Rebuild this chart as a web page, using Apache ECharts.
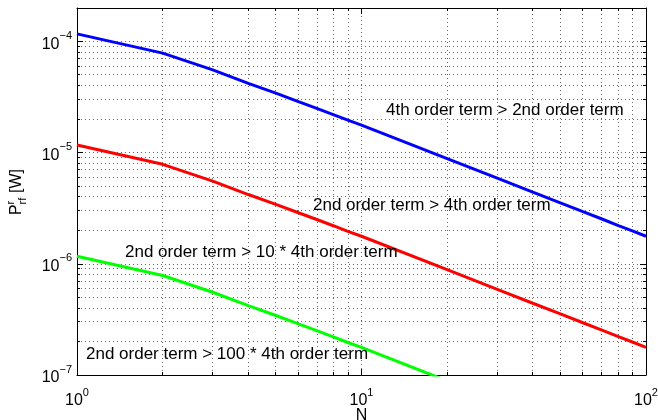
<!DOCTYPE html>
<html>
<head>
<meta charset="utf-8">
<script src="https://cdn.jsdelivr.net/npm/echarts@6/dist/echarts.min.js"></script>
<style>html,body{margin:0;padding:0;background:#fff}#c{width:658px;height:420px}</style>
</head>
<body>
<div id="c"></div>
<script>
// ---- data ----
const N = [1, 2, 3, 4, 5, 6, 7, 8, 9, 10, 20, 30, 40, 50, 60, 70, 80, 90, 100];
const blueVals = [1.17e-4, 7.85e-5, 5.55e-5, 4.2e-5, 3.43e-5, 2.88e-5, 2.49e-5, 2.19e-5, 1.95e-5, 1.77e-5, 8.85e-6, 5.9e-6, 4.42e-6, 3.54e-6, 2.95e-6, 2.53e-6, 2.21e-6, 1.97e-6, 1.77e-6];
const redVals = [1.17e-5, 7.85e-6, 5.55e-6, 4.2e-6, 3.43e-6, 2.88e-6, 2.49e-6, 2.19e-6, 1.95e-6, 1.77e-6, 8.85e-7, 5.9e-7, 4.42e-7, 3.54e-7, 2.95e-7, 2.53e-7, 2.21e-7, 1.97e-7, 1.77e-7];
const greenVals = [1.17e-6, 7.85e-7, 5.55e-7, 4.2e-7, 3.43e-7, 2.88e-7, 2.49e-7, 2.19e-7, 1.95e-7, 1.77e-7, 8.85e-8, 5.9e-8, 4.42e-8, 3.54e-8, 2.95e-8, 2.53e-8, 2.21e-8, 1.97e-8, 1.77e-8];
const xTickExps = [0, 1, 2];
const yTickExps = [-7, -6, -5, -4];
const xMinorTicks = [2, 3, 4, 5, 6, 7, 8, 9, 20, 30, 40, 50, 60, 70, 80, 90];
const yMinorTicks = [2e-7, 3e-7, 4e-7, 5e-7, 6e-7, 7e-7, 8e-7, 9e-7,
                     2e-6, 3e-6, 4e-6, 5e-6, 6e-6, 7e-6, 8e-6, 9e-6,
                     2e-5, 3e-5, 4e-5, 5e-5, 6e-5, 7e-5, 8e-5, 9e-5];
const XMIN = 1, XMAX = 100, YMIN = 1e-7, YMAX = 2e-4;
const annotations = [
  {text: '4th order term > 2nd order term', x: 386, y: 110},
  {text: '2nd order term > 4th order term', x: 313, y: 205},
  {text: '2nd order term > 10 * 4th order term', x: 125, y: 252},
  {text: '2nd order term > 100 * 4th order term', x: 86, y: 354}
];
// ---- chart ----
const FONT = "'Liberation Sans', Arial, Helvetica, sans-serif";
function expLabel(exps) {
  return function (v) {
    const e = Math.log10(v);
    const r = Math.round(e);
    if (Math.abs(e - r) > 1e-6 || exps.indexOf(r) < 0) return '';
    return '{b|10}{s|' + (r < 0 ? '\u2212' + (-r) : r) + '}';
  };
}
const rich = {
  b: {fontSize: 16, fontFamily: FONT, color: '#000', padding: [6, 0, 0, 0]},
  s: {fontSize: 11, fontFamily: FONT, color: '#000', verticalAlign: 'top'}
};
const GRID_COLOR = '#666';
const tickStyle = {show: true, inside: true, length: 6, lineStyle: {color: '#000', width: 1}};
const splitStyle = {show: true, lineStyle: {color: GRID_COLOR, width: 1, type: [1, 3]}};
const axisLine = {show: true, onZero: false, lineStyle: {color: '#000', width: 1}};
const px = v => Math.round(v - 0.5) + 0.5;

const chart = echarts.init(document.getElementById('c'), null, {renderer: 'canvas'});
function minorX(params, api) {
  const v = api.value(0);
  const p0 = api.coord([v, YMIN]);
  const p1 = api.coord([v, YMAX]);
  const x = px(p0[0]);
  return {type: 'group', children: [
    {type: 'line', shape: {x1: x, y1: p0[1], x2: x, y2: p1[1]}, style: {stroke: GRID_COLOR, lineWidth: 1, lineDash: [1, 3]}},
    {type: 'line', shape: {x1: x, y1: p0[1], x2: x, y2: p0[1] - 3}, style: {stroke: '#000', lineWidth: 1}},
    {type: 'line', shape: {x1: x, y1: p1[1], x2: x, y2: p1[1] + 3}, style: {stroke: '#000', lineWidth: 1}}
  ]};
}
function minorY(params, api) {
  const v = api.value(1);
  const p0 = api.coord([XMIN, v]);
  const p1 = api.coord([XMAX, v]);
  const y = px(p0[1]);
  return {type: 'group', children: [
    {type: 'line', shape: {x1: p0[0], y1: y, x2: p1[0], y2: y}, style: {stroke: GRID_COLOR, lineWidth: 1, lineDash: [1, 3]}},
    {type: 'line', shape: {x1: p0[0], y1: y, x2: p0[0] + 3, y2: y}, style: {stroke: '#000', lineWidth: 1}},
    {type: 'line', shape: {x1: p1[0], y1: y, x2: p1[0] - 3, y2: y}, style: {stroke: '#000', lineWidth: 1}}
  ]};
}
const lineSeries = (vals, color) => ({
  type: 'line', xAxisIndex: 0, yAxisIndex: 0, symbol: 'none', clip: true, z: 5,
  lineStyle: {color: color, width: 3}, itemStyle: {color: color},
  data: N.map((n, i) => [n, vals[i]])
});

chart.setOption({
  animation: false,
  backgroundColor: '#fff',
  grid: {left: 77, right: 12, top: 8, bottom: 45, containLabel: false, outerBoundsMode: 'none'},
  xAxis: [
    {type: 'log', logBase: 10, min: XMIN, max: XMAX, position: 'bottom',
     axisLine: axisLine, axisTick: tickStyle, splitLine: splitStyle, minorTick: {show: false},
     axisLabel: {formatter: expLabel(xTickExps), rich: rich, margin: 12, showMinLabel: true, showMaxLabel: true},
     name: 'N', nameLocation: 'middle', nameGap: 33, nameMoveOverlap: false,
     nameTextStyle: {fontSize: 16, fontFamily: FONT, color: '#000'}},
    {type: 'log', logBase: 10, min: XMIN, max: XMAX, position: 'top',
     axisLine: axisLine, axisTick: tickStyle, splitLine: {show: false}, axisLabel: {show: false}}
  ],
  yAxis: [
    {type: 'log', logBase: 10, min: YMIN, max: YMAX, position: 'left',
     axisLine: axisLine, axisTick: tickStyle, splitLine: splitStyle,
     axisLabel: {formatter: expLabel(yTickExps), rich: rich, margin: 5, showMinLabel: true, showMaxLabel: true}},
    {type: 'log', logBase: 10, min: YMIN, max: YMAX, position: 'right',
     axisLine: axisLine, axisTick: tickStyle, splitLine: {show: false}, axisLabel: {show: false}}
  ],
  series: [
    {type: 'custom', xAxisIndex: 0, yAxisIndex: 0, z: 1, silent: true, renderItem: minorX,
     data: xMinorTicks.map(v => [v, YMIN])},
    {type: 'custom', xAxisIndex: 0, yAxisIndex: 0, z: 1, silent: true, renderItem: minorY,
     data: yMinorTicks.map(v => [XMIN, v])},
    lineSeries(blueVals, '#0000ff'),
    lineSeries(redVals, '#ff0000'),
    lineSeries(greenVals, '#00ff00')
  ],
  graphic: [
    ...annotations.map(a => ({type: 'text', x: a.x, y: a.y, z: 10,
      style: {text: a.text, fill: '#000', fontSize: 17, fontFamily: FONT, verticalAlign: 'middle', align: 'left'}})),
    {type: 'group', x: 17, y: 192, rotation: Math.PI / 2, z: 10, children: [
      {type: 'text', x: -23, y: 0, style: {text: 'P', fill: '#000', fontSize: 16, fontFamily: FONT, verticalAlign: 'middle'}},
      {type: 'text', x: -12.5, y: -6, style: {text: 'r', fill: '#000', fontSize: 11, fontFamily: FONT, verticalAlign: 'middle'}},
      {type: 'text', x: -12.5, y: 6, style: {text: 'rf', fill: '#000', fontSize: 11, fontFamily: FONT, verticalAlign: 'middle'}},
      {type: 'text', x: -5.5, y: 0, style: {text: ' [W]', fill: '#000', fontSize: 16, fontFamily: FONT, verticalAlign: 'middle'}}
    ]}
  ]
});
</script>
</body>
</html>
